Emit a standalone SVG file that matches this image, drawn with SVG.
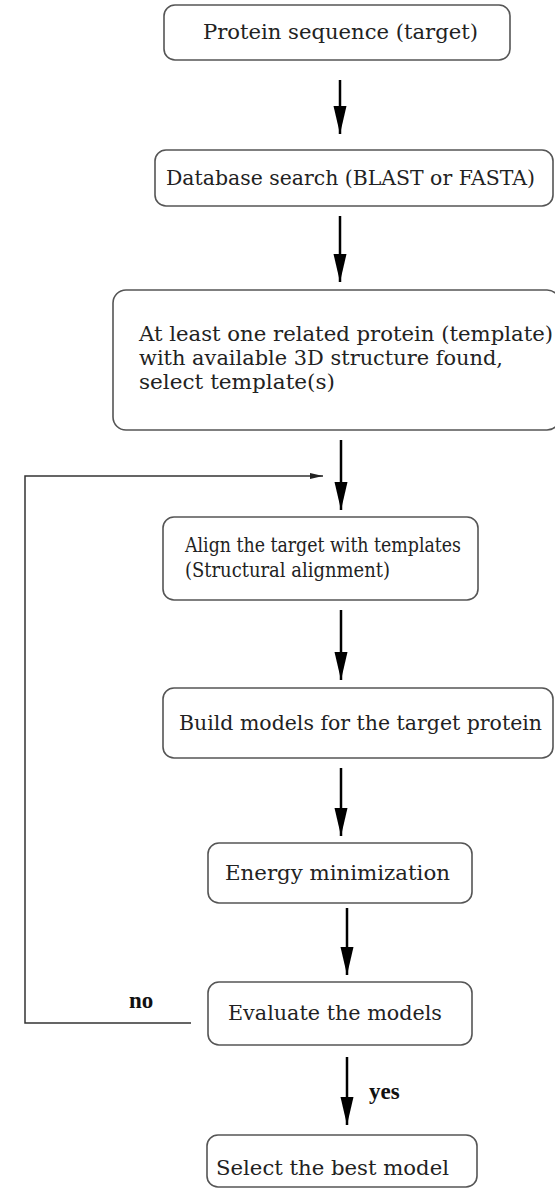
<svg xmlns="http://www.w3.org/2000/svg" width="555" height="1190" viewBox="0 0 555 1190">
<style>
.box{fill:#fff;stroke:#555;stroke-width:1.6}
.t{font-family:"DejaVu Serif","Liberation Serif",serif;font-size:20.5px;fill:#222}
.lbl{font-family:"Liberation Serif",serif;font-size:23px;font-weight:bold;fill:#111}
.arr{stroke:#000;stroke-width:2.5;fill:none}
.fb{stroke:#333;stroke-width:1.5;fill:none}
</style>
<defs>
<marker id="ah" markerUnits="userSpaceOnUse" markerWidth="28" markerHeight="14" refX="28" refY="7" orient="auto" viewBox="0 0 28 14">
<path d="M0,0.5 L28,7 L0,13.5 Z" fill="#000"/>
</marker>
<marker id="sh" markerUnits="userSpaceOnUse" markerWidth="13" markerHeight="7" refX="13" refY="3.5" orient="auto" viewBox="0 0 13 7">
<path d="M0,0.5 L13,3.5 L0,6.5 Z" fill="#222"/>
</marker>
</defs>
<g id="connectors">
<line class="arr" x1="340" y1="80" x2="340" y2="134" marker-end="url(#ah)"/>
<line class="arr" x1="340" y1="216" x2="340" y2="282" marker-end="url(#ah)"/>
<line class="arr" x1="341" y1="440" x2="341" y2="510" marker-end="url(#ah)"/>
<line class="arr" x1="341" y1="610" x2="341" y2="680" marker-end="url(#ah)"/>
<line class="arr" x1="341" y1="768" x2="341" y2="836" marker-end="url(#ah)"/>
<line class="arr" x1="347" y1="908" x2="347" y2="975" marker-end="url(#ah)"/>
<line class="arr" x1="347" y1="1057" x2="347" y2="1125" marker-end="url(#ah)"/>
<polyline class="fb" points="191,1023 25,1023 25,476 323,476" marker-end="url(#sh)"/>
<text class="lbl" x="129" y="1008">no</text>
<text class="lbl" x="369" y="1099">yes</text>
</g>
<g id="n1">
<rect class="box" x="164" y="5" width="346" height="55" rx="11"/>
<text class="t" x="203" y="39" textLength="275" lengthAdjust="spacingAndGlyphs">Protein sequence (target)</text>
</g>
<g id="n2">
<rect class="box" x="155" y="150" width="398" height="56" rx="11"/>
<text class="t" x="166" y="185" textLength="369" lengthAdjust="spacingAndGlyphs">Database search (BLAST or FASTA)</text>
</g>
<g id="n3">
<rect class="box" x="113" y="290" width="447" height="140" rx="13"/>
<text class="t" x="139" y="341" textLength="414" lengthAdjust="spacingAndGlyphs">At least one related protein (template)</text>
<text class="t" x="139" y="365" textLength="364" lengthAdjust="spacingAndGlyphs">with available 3D structure found,</text>
<text class="t" x="139" y="389" textLength="196" lengthAdjust="spacingAndGlyphs">select template(s)</text>
</g>
<g id="n4">
<rect class="box" x="163" y="517" width="315" height="83" rx="11"/>
<text class="t" x="185" y="552" textLength="276" lengthAdjust="spacingAndGlyphs">Align the target with templates</text>
<text class="t" x="185" y="577" textLength="205" lengthAdjust="spacingAndGlyphs">(Structural alignment)</text>
</g>
<g id="n5">
<rect class="box" x="163" y="688" width="390" height="70" rx="11"/>
<text class="t" x="179" y="730" textLength="363" lengthAdjust="spacingAndGlyphs">Build models for the target protein</text>
</g>
<g id="n6">
<rect class="box" x="208" y="843" width="264" height="60" rx="11"/>
<text class="t" x="225" y="880" textLength="225" lengthAdjust="spacingAndGlyphs">Energy minimization</text>
</g>
<g id="n7">
<rect class="box" x="208" y="982" width="264" height="63" rx="11"/>
<text class="t" x="228" y="1020" textLength="214" lengthAdjust="spacingAndGlyphs">Evaluate the models</text>
</g>
<g id="n8">
<rect class="box" x="207" y="1135" width="270" height="52" rx="11"/>
<text class="t" x="216" y="1175" textLength="233" lengthAdjust="spacingAndGlyphs">Select the best model</text>
</g>
</svg>
